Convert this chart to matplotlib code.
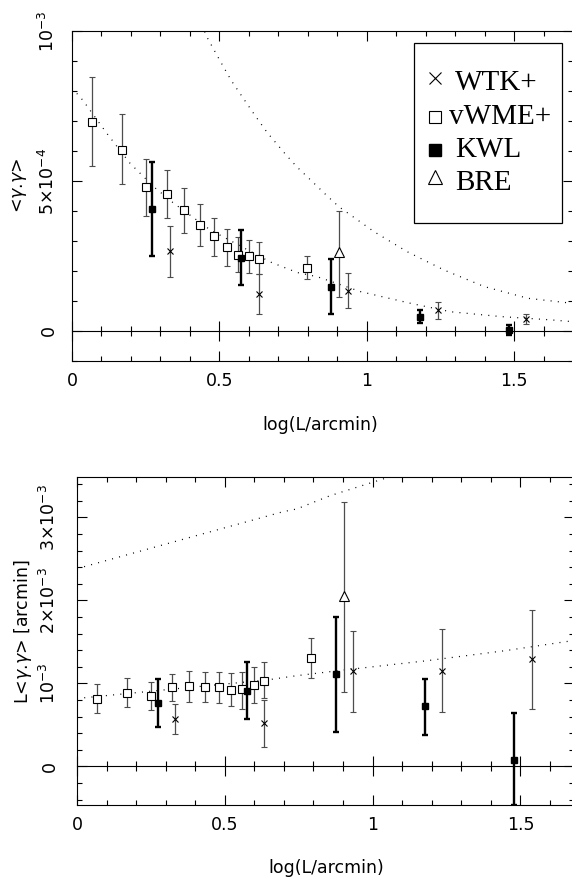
import matplotlib
matplotlib.use("Agg")
import matplotlib.pyplot as plt
from matplotlib.ticker import MultipleLocator, FixedLocator, FixedFormatter
from matplotlib.patches import Rectangle
import numpy as np

# ---- top panel: <gamma.gamma> ----
vwme_x = [0.067, 0.169, 0.250, 0.321, 0.380, 0.433, 0.481, 0.525, 0.562, 0.600, 0.634, 0.796]
vwme_y = [0.698, 0.603, 0.481, 0.457, 0.403, 0.353, 0.317, 0.279, 0.254, 0.249, 0.241, 0.211]
vwme_lo = [0.550, 0.489, 0.383, 0.376, 0.328, 0.284, 0.251, 0.217, 0.198, 0.194, 0.189, 0.173]
vwme_hi = [0.848, 0.722, 0.574, 0.537, 0.478, 0.422, 0.378, 0.339, 0.314, 0.303, 0.296, 0.250]

kwl_x = [0.271, 0.574, 0.878, 1.180, 1.482]
kwl_y = [0.407, 0.244, 0.148, 0.048, 0.003]
kwl_lo = [0.250, 0.153, 0.056, 0.026, -0.013]
kwl_hi = [0.563, 0.337, 0.240, 0.070, 0.020]

wtk_x = [0.334, 0.636, 0.938, 1.241, 1.542]
wtk_y = [0.267, 0.122, 0.134, 0.070, 0.039]
wtk_lo = [0.179, 0.056, 0.076, 0.040, 0.022]
wtk_hi = [0.351, 0.189, 0.192, 0.098, 0.056]

bre_x = [0.906]
bre_y = [0.264]
bre_lo = [0.112]
bre_hi = [0.401]

# model curves
m1_x = [0.0, 0.036, 0.118, 0.197, 0.277, 0.345, 0.469, 0.673, 0.764, 0.832, 0.980, 1.150, 1.286, 1.456, 1.626, 1.700]
m1_y = [0.810, 0.770, 0.659, 0.559, 0.481, 0.426, 0.337, 0.230, 0.195, 0.181, 0.131, 0.092, 0.064, 0.048, 0.037, 0.031]
m2_x = [0.440, 0.460, 0.501, 0.541, 0.583, 0.622, 0.662, 0.722, 0.762, 0.810, 0.866, 0.906, 1.025, 1.138, 1.263, 1.399, 1.547, 1.700]
m2_y = [1.020, 0.976, 0.903, 0.834, 0.773, 0.717, 0.662, 0.592, 0.548, 0.503, 0.450, 0.414, 0.331, 0.264, 0.203, 0.148, 0.109, 0.092]

# ---- bottom panel: L<gamma.gamma> ----
bvwme_x = [0.067, 0.168, 0.250, 0.320, 0.380, 0.434, 0.479, 0.522, 0.559, 0.599, 0.633, 0.792]
bvwme_y = [0.812, 0.884, 0.852, 0.952, 0.964, 0.952, 0.952, 0.924, 0.932, 0.980, 1.033, 1.306]
bvwme_lo = [0.643, 0.719, 0.679, 0.783, 0.779, 0.771, 0.759, 0.727, 0.691, 0.764, 0.820, 1.060]
bvwme_hi = [0.993, 1.060, 1.012, 1.113, 1.145, 1.133, 1.141, 1.120, 1.141, 1.193, 1.253, 1.547]

bkwl_x = [0.275, 0.574, 0.876, 1.176, 1.478]
bkwl_y = [0.759, 0.912, 1.113, 0.723, 0.081]
bkwl_lo = [0.470, 0.571, 0.418, 0.382, -0.460]
bkwl_hi = [1.053, 1.261, 1.804, 1.053, 0.639]

bwtk_x = [0.332, 0.633, 0.935, 1.236, 1.538]
bwtk_y = [0.571, 0.523, 1.153, 1.153, 1.294]
bwtk_lo = [0.390, 0.237, 0.651, 0.659, 0.691]
bwtk_hi = [0.752, 0.804, 1.635, 1.651, 1.888]

bbre_x = [0.903]
bbre_y = [2.048]
bbre_lo = [0.892]
bbre_hi = [3.181]

bm1_x = [0.0, 0.016, 0.348, 0.642, 0.743, 0.900, 1.183, 1.450, 1.675, 1.700]
bm1_y = [0.820, 0.824, 0.940, 1.041, 1.093, 1.160, 1.273, 1.395, 1.514, 1.525]
bm2_x = [0.0, 0.016, 0.382, 0.698, 0.743, 0.856, 1.036, 1.080]
bm2_y = [2.390, 2.398, 2.759, 3.069, 3.101, 3.261, 3.463, 3.520]

xticks = [0, 0.5, 1, 1.5]
xticklabels = ["0", "0.5", "1", "1.5"]
top_yticks = [0, 5e-4, 1e-3]
top_yticklabels = ["0", r"5$\times$10$^{-4}$", r"10$^{-3}$"]
bot_yticks = [0, 1e-3, 2e-3, 3e-3]
bot_yticklabels = ["0", r"10$^{-3}$", r"2$\times$10$^{-3}$", r"3$\times$10$^{-3}$"]

plt.rcParams['font.family'] = ['DejaVu Sans']
plt.rcParams['mathtext.fontset'] = 'dejavusans'

fig = plt.figure(figsize=(5.72, 8.84), dpi=100)
W, H = 572.0, 884.0
ax1 = fig.add_axes([72 / W, 1 - 361 / H, 501 / W, 330 / H])
ax2 = fig.add_axes([77 / W, 1 - 804.6 / H, 496.6 / W, 327.9 / H])

thin = dict(elinewidth=0.9, capsize=2.2, capthick=0.9, ecolor='0.3', ls='none')
thick = dict(elinewidth=1.7, capsize=2.2, capthick=1.7, ecolor='k', ls='none')
dot = dict(color='k', lw=0.9, ls=(0, (0.8, 5)))


def err(y, lo, hi, s):
    y = np.array(y) * s
    return y, [y - np.array(lo) * s, np.array(hi) * s - y]


def panel(ax, s, data, models, xmax, ylim, yticks, ylabels, minor_y):
    for mx, my in models:
        ax.plot(mx, np.array(my) * s, **dot)
    (vx, vy, vlo, vhi), (kx, ky, klo, khi), (wx, wy, wlo, whi), (bx, by, blo, bhi) = data
    y, e = err(vy, vlo, vhi, s)
    ax.errorbar(vx, y, yerr=e, marker='s', ms=6, mfc='white', mec='k', mew=0.8, **thin)
    y, e = err(wy, wlo, whi, s)
    ax.errorbar(wx, y, yerr=e, marker='x', ms=4.5, mec='k', mew=0.8, **thin)
    y, e = err(by, blo, bhi, s)
    ax.errorbar(bx, y, yerr=e, marker='^', ms=6.5, mfc='white', mec='k', mew=0.8, **thin)
    y, e = err(ky, klo, khi, s)
    ax.errorbar(kx, y, yerr=e, marker='s', ms=3.8, mfc='k', mec='k', **thick)

    ax.set_xlim(0, xmax)
    ax.set_ylim(*ylim)
    ax.xaxis.set_major_locator(FixedLocator(xticks))
    ax.xaxis.set_major_formatter(FixedFormatter(xticklabels))
    ax.xaxis.set_minor_locator(MultipleLocator(0.1))
    ax.yaxis.set_major_locator(FixedLocator(yticks))
    ax.yaxis.set_major_formatter(FixedFormatter(ylabels))
    ax.yaxis.set_minor_locator(MultipleLocator(minor_y))
    ax.tick_params(which='both', direction='in', top=True, right=True, width=0.8,
                   labelsize=12.5)
    ax.tick_params(which='major', length=7.5)
    ax.tick_params(which='minor', length=3.8)
    ax.tick_params(axis='x', pad=8)
    for lab in ax.get_yticklabels():
        lab.set_rotation(90)
        lab.set_va('center')
    for sp in ax.spines.values():
        sp.set_linewidth(0.8)

    # zero line with ticks
    loc = (0 - ylim[0]) / (ylim[1] - ylim[0])
    sec = ax.secondary_xaxis(loc)
    sec.xaxis.set_major_locator(FixedLocator(xticks))
    sec.xaxis.set_minor_locator(MultipleLocator(0.1))
    sec.tick_params(which='both', direction='inout', labelbottom=False, width=0.8)
    sec.tick_params(which='major', length=15)
    sec.tick_params(which='minor', length=7.5)
    sec.spines['bottom'].set_linewidth(0.8)


panel(ax1, 1e-3,
      [(vwme_x, vwme_y, vwme_lo, vwme_hi), (kwl_x, kwl_y, kwl_lo, kwl_hi),
       (wtk_x, wtk_y, wtk_lo, wtk_hi), (bre_x, bre_y, bre_lo, bre_hi)],
      [(m1_x, m1_y), (m2_x, m2_y)], 1.7,
      (-1e-4, 1e-3), top_yticks, top_yticklabels, 1e-4)
panel(ax2, 1e-3,
      [(bvwme_x, bvwme_y, bvwme_lo, bvwme_hi), (bkwl_x, bkwl_y, bkwl_lo, bkwl_hi),
       (bwtk_x, bwtk_y, bwtk_lo, bwtk_hi), (bbre_x, bbre_y, bbre_lo, bbre_hi)],
      [(bm1_x, bm1_y), (bm2_x, bm2_y)], 1.68,
      (-0.46e-3, 3.49e-3), bot_yticks, bot_yticklabels, 2e-4)

ax1.tick_params(axis='y', pad=10)
ax2.tick_params(axis='y', pad=13)

ax1.set_xlabel("log(L/arcmin)", fontsize=12.5)
ax1.xaxis.set_label_coords(0.495, -0.194)
ax1.set_ylabel(r"<$\gamma$.$\gamma$>", fontsize=12.5, va='center')
ax1.yaxis.set_label_coords(-0.104, 0.533)
ax2.set_xlabel("log(L/arcmin)", fontsize=12.5)
ax2.xaxis.set_label_coords(0.501, -0.193)
ax2.set_ylabel(r"L<$\gamma$.$\gamma$> [arcmin]", fontsize=12.5, va='center')
ax2.yaxis.set_label_coords(-0.109, 0.526)
for a in (ax1, ax2):
    a.xaxis.label.set_va('center')

# legend box in the top panel
ax1.add_patch(Rectangle((0.683, 0.418), 0.295, 0.546, transform=ax1.transAxes,
                        fill=False, ec='k', lw=0.9, zorder=5))
leg_names = ["WTK+", "vWME+", "KWL", "BRE"]
leg_text_x = [0.764, 0.752, 0.764, 0.764]
leg_text_y = [0.821, 0.718, 0.618, 0.518]
leg_mark_y = [0.859, 0.738, 0.640, 0.559]
leg_marks = [dict(marker='x', ms=8, mec='k', mew=0.8),
             dict(marker='s', ms=8.5, mfc='white', mec='k', mew=0.8),
             dict(marker='s', ms=8, mfc='k', mec='k'),
             dict(marker='^', ms=10, mfc='white', mec='k', mew=0.8)]
for name, tx, ty, my, mk in zip(leg_names, leg_text_x, leg_text_y, leg_mark_y, leg_marks):
    ax1.plot([0.7245], [my], transform=ax1.transAxes, ls='none', clip_on=False, zorder=6, **mk)
    ax1.text(tx, ty, name, transform=ax1.transAxes, family=['Liberation Serif', 'DejaVu Serif'],
             fontsize=21, va='baseline', ha='left', zorder=6)

fig.savefig("out.png", dpi=100)
